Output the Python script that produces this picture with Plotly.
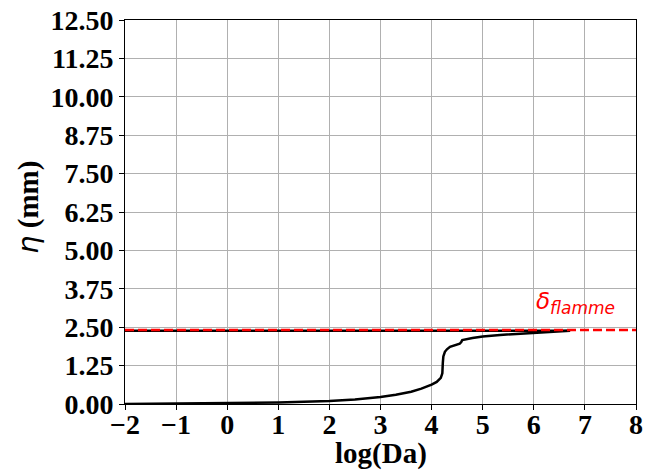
import plotly.graph_objects as go

# Upper branch (solution near flame thickness)
upper_x = [-2.0, 0.0, 2.0, 4.0, 5.0, 6.0, 6.71]
upper_y = [2.385, 2.385, 2.385, 2.385, 2.385, 2.385, 2.385]

# Lower branch
lower_x = [-2.0, -1.0, 0.0, 1.0, 2.0, 2.5, 3.0, 3.3, 3.6, 3.8, 4.0, 4.1, 4.18, 4.21, 4.22, 4.23, 4.26, 4.3, 4.36, 4.45, 4.55, 4.58, 4.6, 4.8, 5.0, 5.34, 6.0, 6.5, 6.71]
lower_y = [0.0, 0.01, 0.02, 0.05, 0.1, 0.15, 0.23, 0.3, 0.4, 0.5, 0.63, 0.72, 0.85, 1.0, 1.35, 1.55, 1.7, 1.78, 1.86, 1.91, 1.96, 2.02, 2.08, 2.15, 2.2, 2.25, 2.32, 2.36, 2.385]

delta_flamme = 2.41
x_range = [-2, 8]
y_ticks = [0.0, 1.25, 2.5, 3.75, 5.0, 6.25, 7.5, 8.75, 10.0, 11.25, 12.5]
x_ticks = [-2, -1, 0, 1, 2, 3, 4, 5, 6, 7, 8]

serif = "Liberation Serif, Times New Roman, serif"

fig = go.Figure()
fig.add_trace(go.Scatter(x=upper_x, y=upper_y, mode="lines",
                         line=dict(color="black", width=2.5), showlegend=False))
fig.add_trace(go.Scatter(x=lower_x, y=lower_y, mode="lines",
                         line=dict(color="black", width=2.5), showlegend=False))
fig.add_trace(go.Scatter(x=x_range, y=[delta_flamme, delta_flamme], mode="lines",
                         line=dict(color="red", width=2.5, dash="9px,4px"), showlegend=False))

fig.add_annotation(x=6.0, y=3.3, xref="x", yref="y", xanchor="left", yanchor="middle",
                   text="<i>δ</i><sub><i><span style='font-size:17px'>flamme</span></i></sub>", showarrow=False,
                   font=dict(family="DejaVu Sans", size=23, color="red"))

# axis titles
fig.add_annotation(x=0.5, y=-0.128, xref="paper", yref="paper", xanchor="center", yanchor="middle",
                   text="<b>log(Da)</b>", showarrow=False,
                   font=dict(family=serif, size=29, color="black"))
fig.add_annotation(x=-0.19, y=0.513, xref="paper", yref="paper", xanchor="center", yanchor="middle",
                   text="<i><span style='font-family:DejaVu Sans'>η</span></i><b> (mm)</b>", showarrow=False,
                   textangle=-90, font=dict(family=serif, size=29, color="black"))

fig.update_layout(
    width=664, height=473,
    margin=dict(l=125, r=28, t=20, b=69),
    plot_bgcolor="white", paper_bgcolor="white",
    font=dict(family=serif, color="black", size=28),
)
axis_common = dict(showline=True, linecolor="black", linewidth=1, mirror=True,
                   showgrid=True, gridcolor="#b0b0b0", gridwidth=1, automargin=False,
                   ticks="outside", ticklen=5, tickcolor="black", zeroline=False,
                   tickfont=dict(family=serif, size=28, color="black", weight="bold"))
fig.update_xaxes(range=x_range, tickvals=x_ticks,
                 ticktext=[("−" + str(-v)) if v < 0 else str(v) for v in x_ticks],
                 ticklabelstandoff=-10,
                 **axis_common)
fig.update_yaxes(range=[0, 12.5], tickvals=y_ticks, ticktext=[f"{v:.2f}" for v in y_ticks],
                 **axis_common)

fig.write_html("out.html", config={"displayModeBar": False},
               post_script="document.body.style.margin='0';document.body.style.overflow='hidden';")
